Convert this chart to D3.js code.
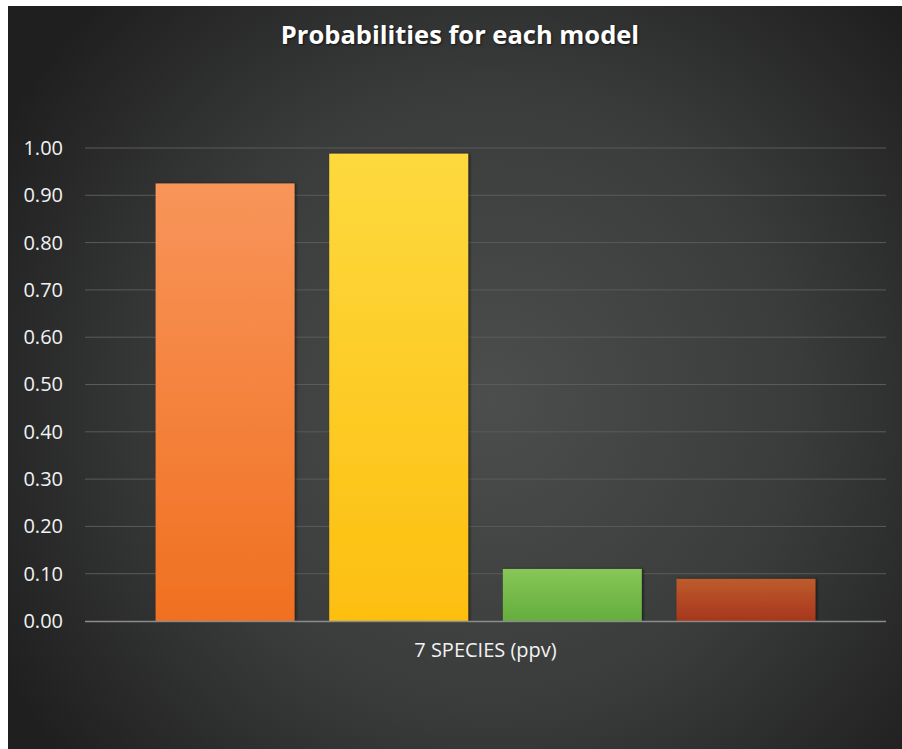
<!DOCTYPE html>
<html>
<head>
<meta charset="utf-8">
<script src="https://cdn.jsdelivr.net/npm/d3@7"></script>
<style>
  html, body { margin: 0; padding: 0; background: #ffffff; }
  svg { display: block; }
</style>
</head>
<body>
<svg id="chart" width="902" height="749"></svg>
<script>
// Chart data
const categories = ["7 SPECIES (ppv)"];
const models = ["Model A", "Model B", "Model C", "Model D"];
const probabilities = [0.925, 0.988, 0.110, 0.089];
const yTicks = [0, 0.1, 0.2, 0.3, 0.4, 0.5, 0.6, 0.7, 0.8, 0.9, 1.0];
const barTopColors = ["#f8955a", "#fdd93e", "#88c657", "#bd5c2c"];
const barBottomColors = ["#f07020", "#fdbf10", "#64ad3e", "#a7361d"];

const svg = d3.select("#chart");
const W = 902, H = 749;
const frame = { x: 8, y: 6, w: W - 8, h: H - 6 };
const plot = { left: 85, right: 886, top: 148, bottom: 621 };

const defs = svg.append("defs");

// Dark radial background
const bg = defs.append("radialGradient")
  .attr("id", "bgGrad")
  .attr("gradientUnits", "userSpaceOnUse")
  .attr("cx", 490).attr("cy", 400).attr("r", 560);
bg.append("stop").attr("offset", "0%").attr("stop-color", "#4c4d4d");
bg.append("stop").attr("offset", "55%").attr("stop-color", "#3a3b3b");
bg.append("stop").attr("offset", "100%").attr("stop-color", "#1f1f1f");

// Vertical gradient for each bar
models.forEach((m, i) => {
  const g = defs.append("linearGradient")
    .attr("id", "barGrad" + i)
    .attr("x1", 0).attr("y1", 0).attr("x2", 0).attr("y2", 1);
  g.append("stop").attr("offset", "0%").attr("stop-color", barTopColors[i]);
  g.append("stop").attr("offset", "100%").attr("stop-color", barBottomColors[i]);
});

// Soft shadow around bars
const shadow = defs.append("filter").attr("id", "barShadow")
  .attr("x", "-10%").attr("y", "-10%").attr("width", "120%").attr("height", "120%");
shadow.append("feDropShadow")
  .attr("dx", 1.5).attr("dy", 0).attr("stdDeviation", 1.5)
  .attr("flood-color", "#000").attr("flood-opacity", 0.55);

svg.append("rect")
  .attr("x", frame.x).attr("y", frame.y)
  .attr("width", frame.w).attr("height", frame.h)
  .attr("fill", "url(#bgGrad)");

// Scales
const y = d3.scaleLinear().domain([0, 1]).range([plot.bottom, plot.top]);
const x0 = d3.scaleBand()
  .domain(categories)
  .range([plot.left, plot.right])
  .paddingInner(0)
  .paddingOuter(0.107);
const x1 = d3.scaleBand()
  .domain(models)
  .range([0, x0.bandwidth()])
  .paddingInner(0.2)
  .paddingOuter(0);

// Gridlines
svg.append("g")
  .selectAll("line")
  .data(yTicks.filter(d => d > 0))
  .join("line")
  .attr("x1", plot.left).attr("x2", plot.right)
  .attr("y1", d => y(d)).attr("y2", d => y(d))
  .attr("stroke", "#5a5b5b")
  .attr("stroke-width", 1);

// Y axis labels
const yAxis = d3.axisLeft(y)
  .tickValues(yTicks)
  .tickFormat(d3.format(".2f"))
  .tickSize(0)
  .tickPadding(0);
const yAxisG = svg.append("g")
  .attr("transform", `translate(63,0)`)
  .call(yAxis);
yAxisG.select(".domain").remove();
yAxisG.selectAll("text")
  .attr("fill", "#f2f2f2")
  .attr("font-family", "'Open Sans', 'Noto Sans', sans-serif")
  .attr("font-size", 20);

// Bars
const groups = svg.append("g")
  .selectAll("g")
  .data(categories)
  .join("g")
  .attr("transform", d => `translate(${x0(d)},0)`);

groups.selectAll("rect")
  .data(() => models.map((m, i) => ({ model: m, value: probabilities[i], i })))
  .join("rect")
  .attr("x", d => x1(d.model))
  .attr("y", d => y(d.value))
  .attr("width", x1.bandwidth())
  .attr("height", d => y(0) - y(d.value))
  .attr("fill", d => `url(#barGrad${d.i})`)
  .attr("filter", "url(#barShadow)");

// X axis baseline
svg.append("line")
  .attr("x1", plot.left).attr("x2", plot.right)
  .attr("y1", y(0) + 0.5).attr("y2", y(0) + 0.5)
  .attr("stroke", "#8c8c8c")
  .attr("stroke-width", 1.5);

// Category label
const xAxis = d3.axisBottom(x0).tickSize(0).tickPadding(0);
const xAxisG = svg.append("g")
  .attr("transform", `translate(0,${plot.bottom + 22})`)
  .call(xAxis);
xAxisG.select(".domain").remove();
xAxisG.selectAll("text")
  .attr("fill", "#f2f2f2")
  .attr("font-family", "'Open Sans', 'Noto Sans', sans-serif")
  .attr("font-size", 20);

// Title
svg.append("text")
  .attr("x", 460).attr("y", 44)
  .attr("text-anchor", "middle")
  .attr("fill", "#ffffff")
  .attr("font-family", "'Open Sans', 'Noto Sans', sans-serif")
  .attr("font-weight", "bold")
  .attr("font-size", 25.5)
  .style("text-shadow", "1px 1px 2px rgba(0,0,0,0.6)")
  .text("Probabilities for each model");
</script>
</body>
</html>
